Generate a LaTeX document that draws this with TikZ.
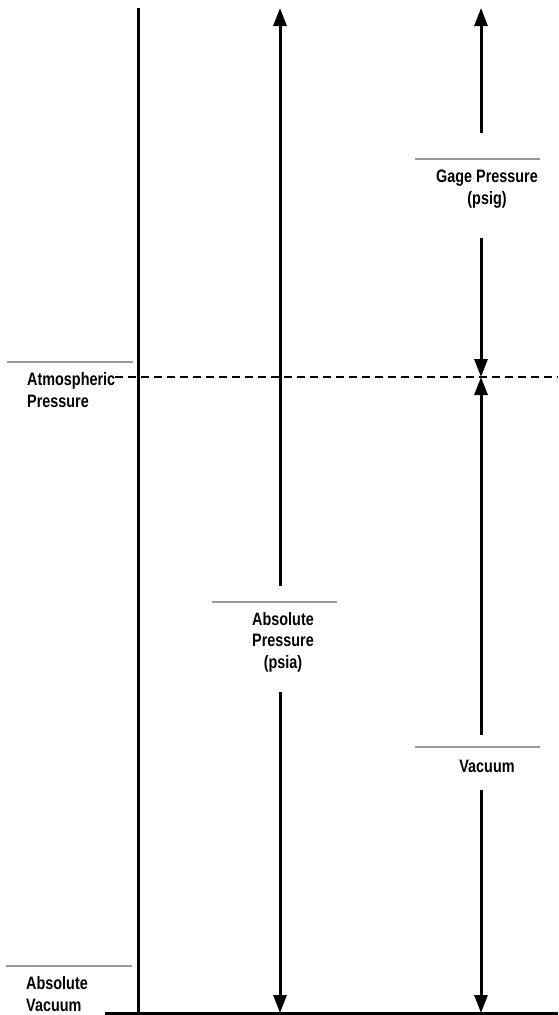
\documentclass[tikz,border=0pt]{standalone}
\usepackage{fontspec}
\setmainfont{Liberation Sans}
\newfontfamily\lblfont{Liberation Sans Bold}[FakeStretch=0.80]
\usetikzlibrary{arrows.meta}
\begin{document}
\begin{tikzpicture}[x=1pt,y=-1pt,
  lbl/.style={inner sep=0pt,font=\lblfont\fontsize{18}{21.5}\selectfont},
  rule/.style={draw=black!40,line width=1.4pt},
  axis/.style={line width=3pt},
  arr/.style={line width=3pt,-{Triangle[length=18pt,width=13pt]}},
  dashline/.style={line width=2.6pt,dash pattern=on 8pt off 5pt}]
\useasboundingbox (0,0) rectangle (558,1015);
% coordinates
\coordinate (axtop) at (138,8);
\coordinate (axbot) at (138,1013);
\coordinate (baseL) at (105,1013);
\coordinate (baseR) at (558,1013);
\coordinate (atmL) at (115,377);
\coordinate (atmR) at (558,377);
\coordinate (mTop) at (280,8);
\coordinate (mUp) at (280,586);
\coordinate (mDn) at (280,692);
\coordinate (mBot) at (280,1013);
\coordinate (rTop) at (481,8);
\coordinate (gUp) at (481,133);
\coordinate (gDn) at (481,238);
\coordinate (rAtm) at (481,377);
\coordinate (vUp) at (481,735);
\coordinate (vDn) at (481,790);
\coordinate (rBot) at (481,1013);
% main lines
\draw[axis] (axtop) -- (axbot);
\draw[axis] (baseL) -- (baseR);
\draw[dashline] (atmL) -- (atmR);
% arrows
\draw[arr] (mUp) -- (mTop);
\draw[arr] (mDn) -- (mBot);
\draw[arr] (gUp) -- (rTop);
\draw[arr] (gDn) -- (rAtm);
\draw[arr] (vUp) -- (rAtm);
\draw[arr] (vDn) -- (rBot);
% rules
\draw[rule] (7,362) -- (133,362);
\draw[rule] (6,966) -- (132,966);
\draw[rule] (212,602) -- (337,602);
\draw[rule] (415,159) -- (540,159);
\draw[rule] (415,747) -- (540,747);
% labels (base anchor = baseline of the last line)
\node[lbl,anchor=base west,align=left] (atm) at (27,407) {Atmospheric\\Pressure};
\node[lbl,anchor=base west,align=left] (vac) at (26,1011) {Absolute\\Vacuum};
\node[lbl,anchor=base,align=center] (gage) at (487,204) {Gage Pressure\\(psig)};
\node[lbl,anchor=base,align=center] (absp) at (283,668) {Absolute\\Pressure\\(psia)};
\node[lbl,anchor=base,align=center] (vacm) at (487,772) {Vacuum};
\end{tikzpicture}
\end{document}
